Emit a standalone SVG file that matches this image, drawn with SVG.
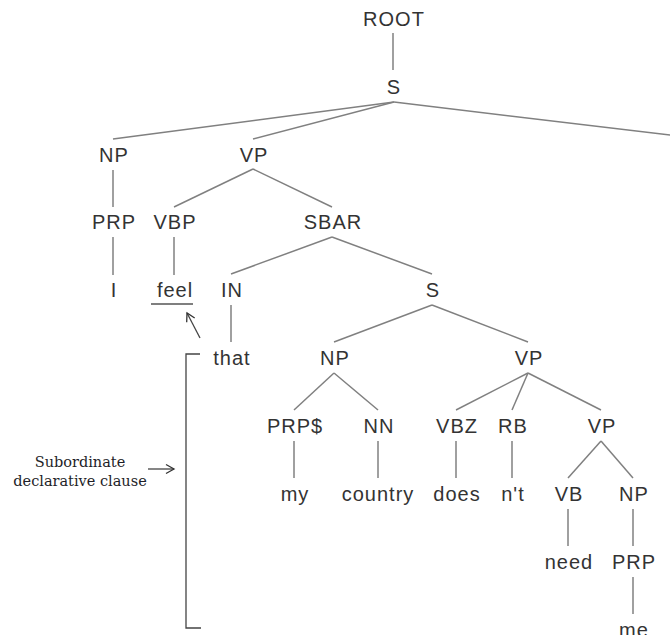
<svg xmlns="http://www.w3.org/2000/svg" width="670" height="635" viewBox="0 0 670 635">
<defs>
<style>
.t{font-family:"Liberation Sans",Arial,sans-serif;font-size:20px;letter-spacing:1px;fill:#333;text-anchor:middle}
.a{font-family:"DejaVu Serif","Liberation Serif",serif;font-size:14.5px;fill:#1e1e28;text-anchor:middle}
.e line,.e path{stroke:#808080;stroke-width:1.5;fill:none}
.k{stroke:#444;stroke-width:1.3;fill:none}
</style>
<marker id="ah" markerWidth="12" markerHeight="12" refX="10" refY="6" orient="auto" markerUnits="userSpaceOnUse">
<path d="M2,1.5 L10,6 L2,10.5" fill="none" stroke="#333" stroke-width="1.3"/>
</marker>
</defs>
<rect width="670" height="635" fill="#fff"/>
<g id="connectors" class="e">
<line x1="393" y1="33" x2="393" y2="70"/>
<line x1="394" y1="102" x2="113" y2="139"/>
<line x1="394" y1="102" x2="253" y2="139"/>
<line x1="394" y1="102" x2="703" y2="139"/>
<line x1="113" y1="170" x2="113" y2="207"/>
<line x1="253" y1="169" x2="174" y2="207"/>
<line x1="253" y1="169" x2="332" y2="207"/>
<line x1="113" y1="237" x2="113" y2="275"/>
<line x1="174" y1="237" x2="174" y2="275"/>
<line x1="332" y1="237" x2="231" y2="274"/>
<line x1="332" y1="237" x2="432" y2="274"/>
<line x1="231" y1="305" x2="231" y2="342"/>
<line x1="432" y1="305" x2="334" y2="342"/>
<line x1="432" y1="305" x2="528" y2="342"/>
<line x1="334" y1="373" x2="294" y2="410"/>
<line x1="334" y1="373" x2="378" y2="410"/>
<line x1="528" y1="373" x2="456" y2="410"/>
<line x1="528" y1="373" x2="512" y2="410"/>
<line x1="528" y1="373" x2="601" y2="410"/>
<line x1="294" y1="441" x2="294" y2="478"/>
<line x1="378" y1="441" x2="378" y2="478"/>
<line x1="456" y1="441" x2="456" y2="478"/>
<line x1="512" y1="441" x2="512" y2="478"/>
<line x1="601" y1="441" x2="568" y2="478"/>
<line x1="601" y1="441" x2="633" y2="478"/>
<line x1="568" y1="509" x2="568" y2="546"/>
<line x1="633" y1="509" x2="633" y2="546"/>
<line x1="633" y1="577" x2="633" y2="614"/>
</g>
<g id="n-root"><text class="t" x="394" y="26">ROOT</text></g>
<g id="n-s1"><text class="t" x="394" y="94">S</text></g>
<g id="n-np1"><text class="t" x="114" y="162">NP</text></g>
<g id="n-vp1"><text class="t" x="254" y="162">VP</text></g>
<g id="n-prp1"><text class="t" x="114" y="229">PRP</text></g>
<g id="n-vbp"><text class="t" x="175" y="229">VBP</text></g>
<g id="n-sbar"><text class="t" x="333" y="229">SBAR</text></g>
<g id="n-i"><text class="t" x="114" y="297">I</text></g>
<g id="n-feel"><text class="t" x="175" y="297">feel</text><line x1="151" y1="304" x2="193" y2="304" stroke="#555" stroke-width="1.5"/></g>
<g id="n-in"><text class="t" x="232" y="297">IN</text></g>
<g id="n-s2"><text class="t" x="433" y="297">S</text></g>
<g id="n-that"><text class="t" x="232" y="365">that</text></g>
<g id="n-np2"><text class="t" x="335" y="365">NP</text></g>
<g id="n-vp2"><text class="t" x="529" y="365">VP</text></g>
<g id="n-prps"><text class="t" x="295" y="433">PRP$</text></g>
<g id="n-nn"><text class="t" x="379" y="433">NN</text></g>
<g id="n-vbz"><text class="t" x="457" y="433">VBZ</text></g>
<g id="n-rb"><text class="t" x="513" y="433">RB</text></g>
<g id="n-vp3"><text class="t" x="602" y="433">VP</text></g>
<g id="n-my"><text class="t" x="295" y="501">my</text></g>
<g id="n-country"><text class="t" x="378" y="501">country</text></g>
<g id="n-does"><text class="t" x="457" y="501">does</text></g>
<g id="n-nt"><text class="t" x="513" y="501">n't</text></g>
<g id="n-vb"><text class="t" x="569" y="501">VB</text></g>
<g id="n-np3"><text class="t" x="634" y="501">NP</text></g>
<g id="n-need"><text class="t" x="569" y="569">need</text></g>
<g id="n-prp2"><text class="t" x="634" y="569">PRP</text></g>
<g id="n-me"><text class="t" x="634" y="637">me</text></g>
<g id="annotation">
<line class="k" x1="200" y1="338" x2="187" y2="313" marker-end="url(#ah)"/>
<path class="k" d="M200,354 H186 V628 H201"/>
<text class="a" x="80" y="467">Subordinate</text>
<text class="a" x="80" y="486">declarative clause</text>
<line class="k" x1="148" y1="469" x2="174" y2="469" marker-end="url(#ah)"/>
</g>
</svg>
